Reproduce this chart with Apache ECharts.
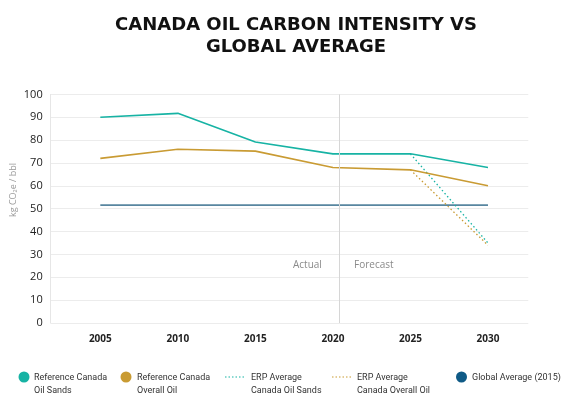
<!DOCTYPE html>
<html>
<head>
<meta charset="utf-8">
<style>
  html, body { margin: 0; padding: 0; background: #ffffff; }
  #chart { width: 561px; height: 393px; }
</style>
<script src="https://cdn.jsdelivr.net/npm/echarts@6/dist/echarts.min.js"></script>
</head>
<body>
<div id="chart"></div>
<script>
// Years shown on the horizontal axis
const years = [2005, 2010, 2015, 2020, 2025, 2030];
// Carbon intensity, kg CO2e per barrel
const oilSands = [90, 91.7, 79.2, 74, 74, 68];
const overallOil = [72, 76, 75.2, 68, 67, 60];
const globalAverage = [51.6, 51.6, 51.6, 51.6, 51.6, 51.6];
// ERP pathway, 2025 to 2030
const erpYears = [2025, 2030];
const erpOilSands = [74, 35];
const erpOverallOil = [67, 34];
// Boundary between actual and forecast values
const forecastStart = 2020.4;
const yTicks = [0, 10, 20, 30, 40, 50, 60, 70, 80, 90, 100];

const teal = '#17b3a4';
const gold = '#c99b33';
const steel = '#5886a0';
const navy = '#0f5a86';

const pairs = (xs, ys) => xs.map((x, i) => [x, ys[i]]);

const chart = echarts.init(document.getElementById('chart'), null, { renderer: 'canvas' });

const legendFont = '9px Roboto, sans-serif';
function legendText(x, text) {
  return {
    type: 'text', left: x, top: 371,
    style: { text: text, font: legendFont, fill: '#333', lineHeight: 13 }
  };
}
function legendDot(cx, color) {
  return { type: 'circle', shape: { cx: cx, cy: 377, r: 5.5 }, style: { fill: color } };
}
function legendDots(x1, x2, color) {
  return {
    type: 'line', shape: { x1: x1, y1: 377, x2: x2, y2: 377 },
    style: { stroke: color, lineWidth: 1.2, lineDash: [1.5, 2] }
  };
}

chart.setOption({
  animation: false,
  title: {
    text: 'CANADA OIL CARBON INTENSITY VS\nGLOBAL AVERAGE',
    left: 291, top: 9, textAlign: 'center',
    textStyle: {
      fontFamily: '"DejaVu Sans", sans-serif', fontWeight: 900, fontSize: 18,
      color: '#111', lineHeight: 22
    }
  },
  grid: {
    left: 50.7, right: 32.7, top: 94.4, bottom: 70,
    containLabel: false, outerBoundsMode: 'none'
  },
  xAxis: {
    type: 'value', min: 2001.8, max: 2032.6,
    axisLine: { show: false }, axisTick: { show: false }, splitLine: { show: false },
    axisLabel: {
      customValues: years, margin: 11,
      formatter: v => String(v),
      fontFamily: '"Open Sans", sans-serif', fontWeight: 'bold', fontSize: 10, color: '#222'
    }
  },
  yAxis: {
    type: 'value', min: 0, max: 100, interval: 10,
    axisLine: { show: true, lineStyle: { color: '#e6e6e6', width: 1 } },
    axisTick: { show: false },
    splitLine: { lineStyle: { color: '#ececec', width: 1 } },
    axisLabel: {
      customValues: yTicks, margin: 8,
      fontFamily: '"Open Sans", sans-serif', fontSize: 11, color: '#222'
    }
  },
  series: [
    {
      name: 'Reference Canada Oil Sands', type: 'line', data: pairs(years, oilSands),
      symbol: 'none', lineStyle: { color: teal, width: 1.6 }, z: 4,
      markLine: {
        silent: true, symbol: 'none',
        lineStyle: { color: '#d6d6d6', width: 1, type: 'solid' },
        label: { show: false },
        data: [[{ coord: [forecastStart, 0] }, { coord: [forecastStart, 100] }]]
      }
    },
    {
      name: 'Reference Canada Overall Oil', type: 'line', data: pairs(years, overallOil),
      symbol: 'none', lineStyle: { color: gold, width: 1.6 }, z: 4
    },
    {
      name: 'ERP Average Canada Oil Sands', type: 'line', data: pairs(erpYears, erpOilSands),
      symbol: 'none', lineStyle: { color: teal, width: 1.3, type: [1.5, 2.5] }, z: 3
    },
    {
      name: 'ERP Average Canada Overall Oil', type: 'line', data: pairs(erpYears, erpOverallOil),
      symbol: 'none', lineStyle: { color: gold, width: 1.3, type: [1.5, 2.5] }, z: 3
    },
    {
      name: 'Global Average (2015)', type: 'line', data: pairs(years, globalAverage),
      symbol: 'none', lineStyle: { color: steel, width: 1.8 }, z: 2
    }
  ],
  graphic: [
    // vertical unit label beside the value axis
    {
      type: 'text', x: 13, y: 190, rotation: Math.PI / 2,
      style: {
        text: 'kg CO₂e / bbl', font: '9px "Open Sans", sans-serif', fill: '#9a9a9a',
        align: 'center', verticalAlign: 'middle'
      }
    },
    {
      type: 'text', left: 293, top: 260,
      style: { text: 'Actual', font: '10px "Open Sans", sans-serif', fill: '#8a8a8a' }
    },
    {
      type: 'text', left: 354, top: 260,
      style: { text: 'Forecast', font: '10px "Open Sans", sans-serif', fill: '#8a8a8a' }
    },
    legendDot(24, teal), legendText(34, 'Reference Canada\nOil Sands'),
    legendDot(126, gold), legendText(137, 'Reference Canada\nOverall Oil'),
    legendDots(225, 246, teal), legendText(251, 'ERP Average\nCanada Oil Sands'),
    legendDots(332, 353, gold), legendText(357, 'ERP Average\nCanada Overall Oil'),
    legendDot(461.5, navy), legendText(472, 'Global Average (2015)')
  ]
});
</script>
</body>
</html>
